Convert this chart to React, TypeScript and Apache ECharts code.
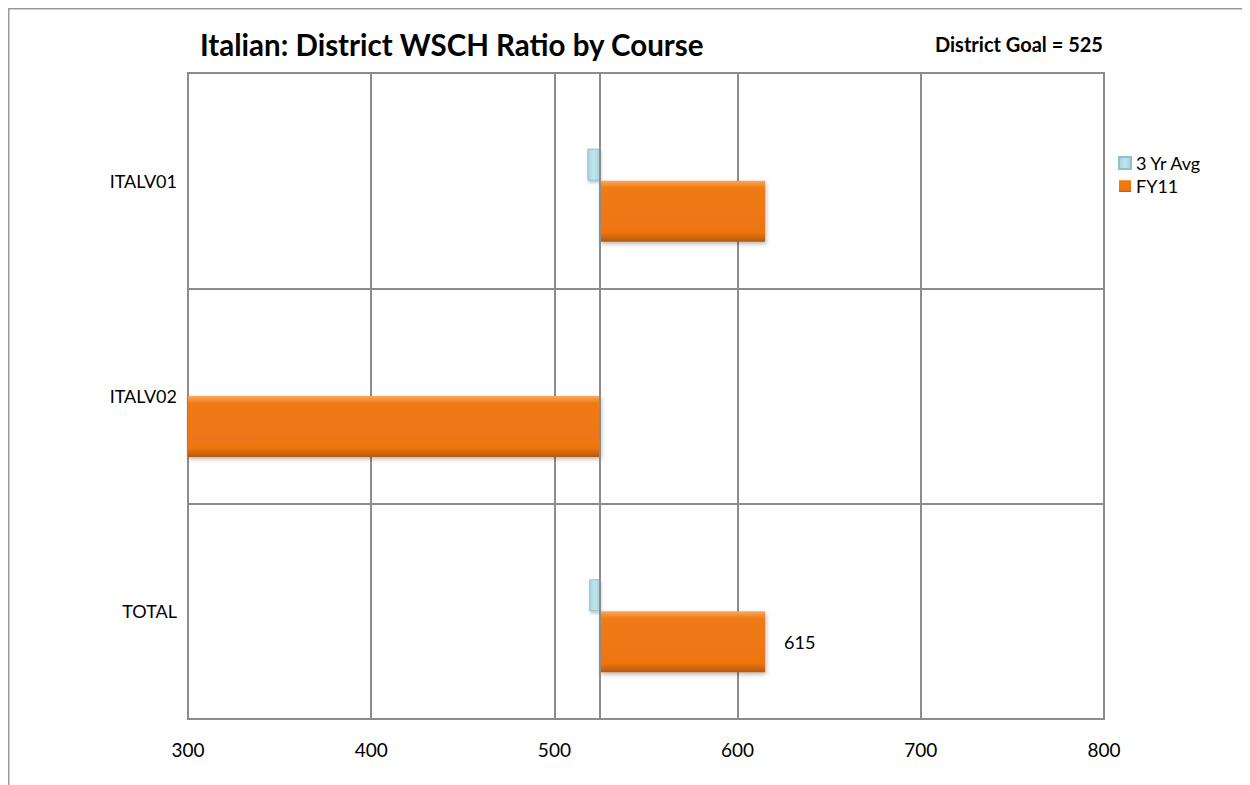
import React, { useEffect, useRef } from "react";
import * as echarts from "echarts";

const categories = ["ITALV01", "ITALV02", "TOTAL"];
const avg3yr: (number | null)[] = [518, null, 519];
const fy11: (number | null)[] = [615, 290, 615];
const goal = 525;
const xMin = 300;
const xMax = 800;
const xStep = 100;
const labeledCategory = "TOTAL";

const FONT = "Lato, 'Open Sans', sans-serif";
const GRID = "#8c8c8c";

const baseOf = (v: number | null) => (v == null ? null : Math.min(v, goal));
const spanOf = (v: number | null) => (v == null ? null : Math.abs(v - goal));

export default function App() {
  const ref = useRef<HTMLDivElement>(null);
  useEffect(() => {
    document.body.style.overflow = "hidden";
    const chart = echarts.init(ref.current!, null, { renderer: "svg" });
    const orange = new echarts.graphic.LinearGradient(0, 0, 0, 1, [
      { offset: 0, color: "#f9a95a" },
      { offset: 0.12, color: "#f07a15" },
      { offset: 0.85, color: "#ee7511" },
      { offset: 1, color: "#b5580f" },
    ]);
    const blue = new echarts.graphic.LinearGradient(0, 0, 1, 0, [
      { offset: 0, color: "#a9d5e1" },
      { offset: 0.5, color: "#c3e4ec" },
      { offset: 1, color: "#a6d2de" },
    ]);
    chart.setOption({
      animation: false,
      graphic: [
        {
          type: "rect",
          shape: { x: 0.75, y: 0.75, width: 3000, height: 3000 },
          style: { fill: "none", stroke: "#9a9a9a", lineWidth: 1.5 },
          silent: true,
        },
        {
          type: "text",
          left: 192,
          top: 21,
          style: {
            text: "Italian: District WSCH Ratio by Course",
            font: `bold 29.5px ${FONT}`,
            fill: "#000",
          },
        },
        {
          type: "text",
          left: 927,
          top: 26,
          style: {
            text: "District Goal = 525",
            font: `bold 20px ${FONT}`,
            fill: "#000",
          },
        },
      ],
      legend: {
        data: ["3 Yr Avg", "FY11"],
        orient: "vertical",
        left: 1105,
        top: 141,
        icon: "rect",
        itemWidth: 12,
        itemHeight: 12,
        itemGap: 5,
        textStyle: { fontFamily: FONT, fontSize: 18, color: "#000" },
      },
      grid: {
        left: 180,
        right: 146,
        top: 65,
        bottom: 66,
        show: true,
        borderColor: GRID,
        borderWidth: 2,
      },
      xAxis: {
        type: "value",
        min: xMin,
        max: xMax,
        interval: xStep,
        axisLine: { show: false },
        axisTick: { show: false },
        splitLine: { show: true, lineStyle: { color: GRID, width: 2 } },
        axisLabel: { fontFamily: FONT, fontSize: 19, color: "#000", margin: 21 },
      },
      yAxis: {
        type: "category",
        data: categories,
        inverse: true,
        axisLine: { show: false },
        axisTick: { show: false },
        splitLine: { show: true, lineStyle: { color: GRID, width: 2 } },
        axisLabel: { fontFamily: FONT, fontSize: 18, color: "#000", margin: 11 },
      },
      series: [
        {
          name: "_slot",
          type: "bar",
          stack: "slot",
          barWidth: 29,
          barGap: "0%",
          data: categories.map(() => null),
          silent: true,
        },
        {
          name: "_avgBase",
          type: "bar",
          stack: "avg",
          barWidth: 32,
          barGap: "0%",
          data: avg3yr.map(baseOf),
          itemStyle: { color: "rgba(0,0,0,0)" },
          silent: true,
        },
        {
          name: "3 Yr Avg",
          type: "bar",
          stack: "avg",
          barGap: "0%",
          data: avg3yr.map(spanOf),
          itemStyle: {
            color: blue,
            borderColor: "#8ec0cd",
            borderWidth: 1,
            shadowBlur: 3,
            shadowColor: "rgba(0,0,0,0.25)",
            shadowOffsetX: 1,
            shadowOffsetY: 2,
          },
        },
        {
          name: "_fyBase",
          type: "bar",
          stack: "fy",
          barWidth: 61,
          barGap: "0%",
          data: fy11.map(baseOf),
          itemStyle: { color: "rgba(0,0,0,0)" },
          silent: true,
        },
        {
          name: "FY11",
          type: "bar",
          stack: "fy",
          barGap: "0%",
          data: fy11.map((v, i) => ({
            value: spanOf(v),
            label: {
              show: categories[i] === labeledCategory,
              position: "right",
              distance: 19,
              formatter: String(v),
              fontFamily: FONT,
              fontSize: 18,
              color: "#000",
            },
          })),
          itemStyle: {
            color: orange,
            shadowBlur: 4,
            shadowColor: "rgba(0,0,0,0.3)",
            shadowOffsetX: 1,
            shadowOffsetY: 2,
          },
          markLine: {
            silent: true,
            symbol: "none",
            label: { show: false },
            lineStyle: { color: GRID, width: 2, type: "solid" },
            data: [{ xAxis: goal }],
          },
        },
      ],
    });
    return () => chart.dispose();
  }, []);
  return <div ref={ref} style={{ width: 1242, height: 777 }} />;
}
